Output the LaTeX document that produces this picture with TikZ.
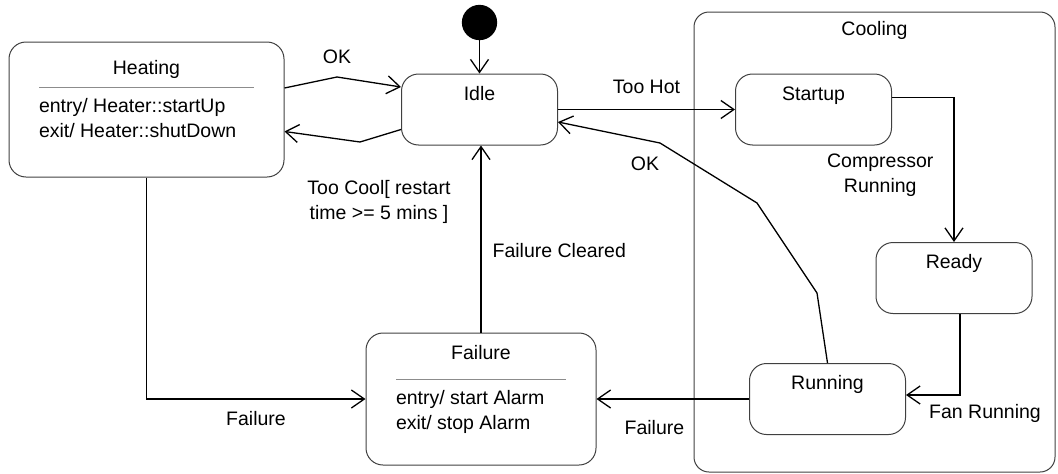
\documentclass[tikz,border=0pt]{standalone}
\usepackage{fontspec}
\setmainfont{Liberation Sans}
\usepackage{xcolor}
\usepackage{tikz}
\usetikzlibrary{arrows.meta,positioning}

\newcommand{\activities}[5]{%
	\vtop{\hbox to #1{\hfil #2\hfil}%
		\baselineskip=#3\hbox{\color{black!45}\rule{#1}{1.2pt}}%
		\baselineskip=24pt\hbox{#4}%
		\baselineskip=25pt\hbox{#5}}}

\begin{document}
\begin{tikzpicture}[x=1pt,y=-1pt,on grid,line width=1.3pt,>={Straight Barb[length=13pt,width=18pt]},font=\fontsize{19.5}{25}\selectfont]
		\tikzstyle{every node}=[inner sep=0pt]
		\tikzstyle{state}=[draw=black!75,line width=1pt,rounded corners=17pt,minimum width=156pt,text height=26pt,text depth=45pt]
		\tikzstyle{composite}=[draw=black!75,line width=1pt,rounded corners=15pt,minimum width=361pt,text height=23pt,text depth=437pt]
		\tikzstyle{init dot}=[circle,draw,fill=black,minimum size=34pt]
		\tikzstyle{trigger}=[align=center]
		
		\useasboundingbox (0,0) rectangle (1058,474);
		
		\node[composite] (cooling)  at (874.5,242)  {Cooling};
		\node[state,minimum width=275pt,text height=32.5pt,text depth=102.5pt] (heating) at (146.5,109.5)
			{\activities{215pt}{Heating}{13.5pt}{entry/ Heater::startUp}{exit/ Heater::shutDown}};
		\node[state]      (idle)     [right=333pt of heating]                 {Idle};
		\node[init dot]   (init)     [above=87pt of idle]                     {};
		\node[state]      (startup)  [right=334pt of idle]                    {Startup};
		\node[state]      (ready)    [below right=168.5pt and 140.5pt of startup] {Ready};
		\node[state]      (running)  [below left=121pt and 126.5pt of ready]  {Running};
		\node[state,minimum width=230pt,text height=26pt,text depth=106pt] (failure) [left=346.5pt of running]
			{\activities{170pt}{Failure}{21pt}{entry/ start Alarm}{exit/ stop Alarm}};
		
		\draw[->] (init) -- (idle);
		\draw[->] ([yshift=21.5pt]heating.east) -- (337,77) node[trigger,above=13pt] {OK} -- ([yshift=22.5pt]idle.west);
		\draw[->] ([yshift=-20pt]idle.west) -- (360,142) node[trigger,below=38pt,xshift=19pt] {Too Cool[ restart\\time >= 5 mins ]} -- ([yshift=-22pt]heating.east);
		\draw[->] (idle) -- node[trigger,above=15pt] {Too Hot} (startup);
		\draw[->] ([yshift=12pt]startup.east) -| node[trigger,pos=0.77,left=20pt] {Compressor\\Running} (ready.north);
		\draw[->] ([xshift=6pt]ready.south) |- node[trigger,pos=0.5,xshift=25pt,yshift=-18pt] {Fan Running} ([yshift=4pt]running.east);
		\draw[->] (running.north) -- (817,293) -- (757,203) -- (660,143) node[trigger,below=13pt,xshift=-15pt] {OK} -- ([yshift=-12.5pt]idle.east);
		\draw[->] (running) -- node[trigger,pos=0.62,below=21pt] {Failure} (failure);
		\draw[->] (heating) |- node[trigger,pos=0.75,below=12pt] {Failure} (failure);
		\draw[->] (failure.north) -- node[trigger,pos=0.44,right=11pt] {Failure Cleared} (failure.north |- idle.south);
		
\end{tikzpicture}
\end{document}
